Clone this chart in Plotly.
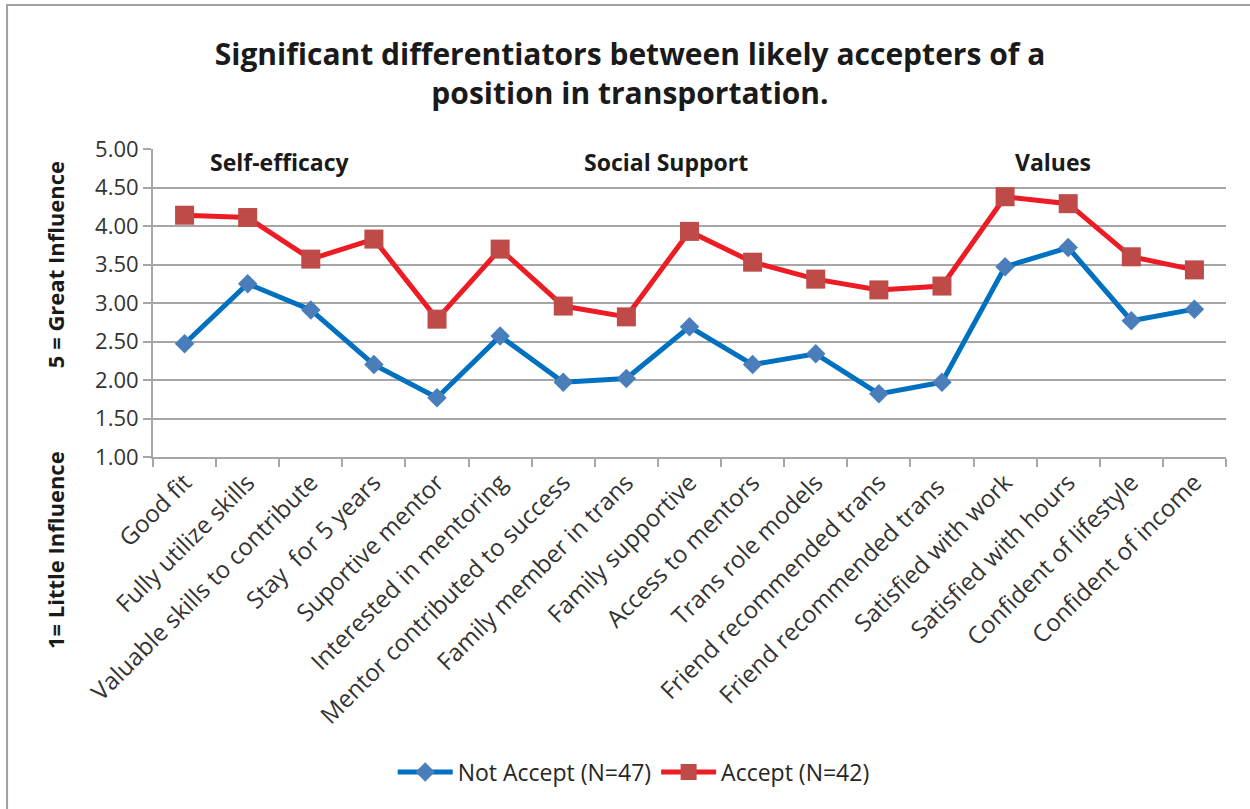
import plotly.graph_objects as go

# Survey items on the category axis
categories = [
    "Good fit", "Fully utilize skills", "Valuable skills to contribute",
    "Stay  for 5 years", "Suportive mentor", "Interested in mentoring",
    "Mentor contributed to success", "Family member in trans",
    "Family supportive", "Access to mentors", "Trans role models",
    "Friend recommended trans", "Friend recommended trans ",
    "Satisfied with work", "Satisfied with hours",
    "Confident of lifestyle", "Confident of income",
]

# Mean influence ratings (1 = little, 5 = great)
not_accept = [2.47, 3.25, 2.91, 2.20, 1.77, 2.57, 1.97, 2.02, 2.69,
              2.20, 2.34, 1.82, 1.97, 3.47, 3.72, 2.77, 2.92]
accept = [4.14, 4.11, 3.57, 3.83, 2.79, 3.70, 2.96, 2.82, 3.93,
          3.53, 3.31, 3.17, 3.22, 4.38, 4.29, 3.60, 3.43]

y_ticks = [1.0, 1.5, 2.0, 2.5, 3.0, 3.5, 4.0, 4.5, 5.0]

section_labels = ["Self-efficacy", "Social Support", "Values"]
section_x = [0.118, 0.478, 0.839]

FONT = "'Open Sans', 'Noto Sans', sans-serif"
GRID = "#a6a6a6"

fig = go.Figure()
fig.add_trace(go.Scatter(
    x=categories, y=not_accept, mode="lines+markers",
    name="Not Accept (N=47)",
    line=dict(color="#0070C0", width=5),
    marker=dict(symbol="diamond", size=15, color="#4A7EBB"),
))
fig.add_trace(go.Scatter(
    x=categories, y=accept, mode="lines+markers",
    name="Accept (N=42)",
    line=dict(color="#ED1C24", width=5),
    marker=dict(symbol="square", size=19, color="#BE4B48"),
))

annotations = []
for label, xp in zip(section_labels, section_x):
    annotations.append(dict(
        text="<b>%s</b>" % label, x=xp, y=0.958, xref="paper", yref="paper",
        showarrow=False, xanchor="center", yanchor="middle",
        font=dict(family=FONT, size=23, color="#1a1a1a"),
    ))
annotations.append(dict(
    text="<b>5 = Great Influence</b>", x=-0.0913, y=0.623,
    xref="paper", yref="paper", showarrow=False, textangle=-90,
    xanchor="center", yanchor="middle",
    font=dict(family=FONT, size=22, color="#1a1a1a"),
))
annotations.append(dict(
    text="<b>1= Little Influence</b>", x=-0.0913, y=-0.302,
    xref="paper", yref="paper", showarrow=False, textangle=-90,
    xanchor="center", yanchor="middle",
    font=dict(family=FONT, size=22, color="#1a1a1a"),
))

fig.update_layout(
    width=1250, height=809, autosize=False,
    margin=dict(l=153, r=24, t=149, b=352),
    paper_bgcolor="white", plot_bgcolor="white",
    font=dict(family=FONT, color="#404040"),
    title=dict(
        text="<b>Significant differentiators between likely accepters of a<br>position in transportation.</b>",
        x=0.504, xref="container", xanchor="center",
        y=0.92, yref="container", yanchor="middle",
        font=dict(family=FONT, size=30, color="#1a1a1a"),
    ),
    xaxis=dict(
        type="category", range=[-0.5, len(categories) - 0.5],
        tickangle=-45, tickson="boundaries",
        ticks="outside", ticklen=8, tickcolor=GRID, tickwidth=2,
        showline=True, linecolor=GRID, linewidth=2,
        showgrid=False, tickfont=dict(family=FONT, size=24, color="#333333"),
    ),
    yaxis=dict(
        range=[1, 5], tickvals=y_ticks, tickformat=".2f",
        ticks="outside", ticklen=8, tickcolor=GRID, tickwidth=2,
        showline=True, linecolor=GRID, linewidth=2,
        showgrid=True, gridcolor=GRID, gridwidth=2, zeroline=False,
        tickfont=dict(family=FONT, size=22, color="#333333"),
    ),
    legend=dict(
        orientation="h", x=0.448, y=-1.023, xanchor="center", yanchor="middle",
        font=dict(family=FONT, size=23, color="#262626"),
        itemwidth=55,
    ),
    annotations=annotations,
    shapes=[dict(
        type="rect", xref="paper", yref="paper",
        x0=-0.136, y0=-1.2, x1=1.05, y1=1.4675,
        line=dict(color="#a0a0a0", width=2), layer="below",
    )],
)

fig.write_html("out.html")
